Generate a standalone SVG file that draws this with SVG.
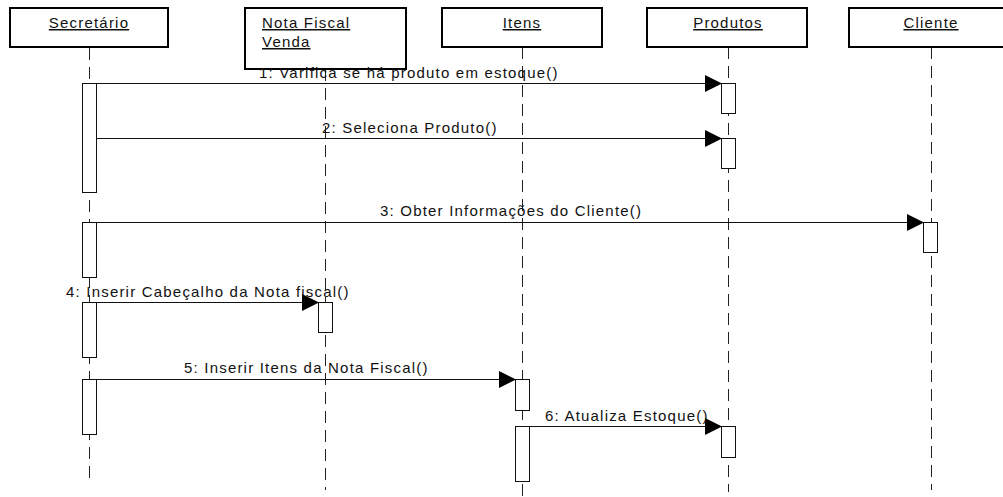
<svg xmlns="http://www.w3.org/2000/svg" width="1003" height="497" viewBox="0 0 1003 497">
  <style>
    .head { fill: #fff; stroke: #000; stroke-width: 2; }
    .name { font-family: "Liberation Sans", Arial, sans-serif; font-size: 15px; letter-spacing: 1.2px; fill: #111; text-decoration: underline; }
    .life { stroke: #222; stroke-width: 1; stroke-dasharray: 12 7; fill: none; }
    .act { fill: #fff; stroke: #111; stroke-width: 1; }
    .msg { stroke: #111; stroke-width: 1; fill: none; marker-end: url(#arrow); }
    .lbl { font-family: "Liberation Sans", Arial, sans-serif; font-size: 15px; letter-spacing: 1.2px; fill: #111; }
  </style>
  <defs>
    <marker id="arrow" markerUnits="userSpaceOnUse" markerWidth="18" markerHeight="18" refX="17" refY="8.5" orient="auto">
      <path d="M0,0 L17,8.5 L0,17 Z" fill="#000"/>
    </marker>
  </defs>
  <rect width="1003" height="497" fill="#fff"/>

  <!-- lifelines (drawn under activation bars) -->
  <g id="lifelines">
    <line class="life" x1="89.5" y1="48" x2="89.5" y2="484"/>
    <line class="life" x1="325.5" y1="69" x2="325.5" y2="490"/>
    <line class="life" x1="522.5" y1="47" x2="522.5" y2="497"/>
    <line class="life" x1="728.5" y1="47" x2="728.5" y2="492"/>
    <line class="life" x1="931.5" y1="47" x2="931.5" y2="490"/>
  </g>

  <g id="secretario">
    <rect class="head" x="10" y="8" width="158" height="39"/>
    <text class="name" x="89" y="28" text-anchor="middle">Secretário</text>
    <rect class="act" x="82.5" y="83.5" width="14" height="109"/>
    <rect class="act" x="82.5" y="222.5" width="14" height="55"/>
    <rect class="act" x="82.5" y="302.5" width="14" height="55"/>
    <rect class="act" x="82.5" y="379.5" width="14" height="55"/>
  </g>

  <g id="nota-fiscal-venda">
    <rect class="head" x="245" y="8" width="161" height="61"/>
    <text class="name" x="262" y="28">Nota Fiscal</text>
    <text class="name" x="262" y="47">Venda</text>
    <rect class="act" x="318.5" y="302.5" width="14" height="30"/>
  </g>

  <g id="itens">
    <rect class="head" x="442" y="8" width="160" height="39"/>
    <text class="name" x="522" y="28" text-anchor="middle">Itens</text>
    <rect class="act" x="515.5" y="379.5" width="14" height="31"/>
    <rect class="act" x="515.5" y="426.5" width="14" height="55"/>
  </g>

  <g id="produtos">
    <rect class="head" x="647" y="8" width="160" height="39"/>
    <text class="name" x="728" y="28" text-anchor="middle">Produtos</text>
    <rect class="act" x="721.5" y="83.5" width="14" height="30"/>
    <rect class="act" x="721.5" y="138.5" width="14" height="30"/>
    <rect class="act" x="721.5" y="426.5" width="14" height="31"/>
  </g>

  <g id="cliente">
    <rect class="head" x="849" y="8" width="164" height="39"/>
    <text class="name" x="931" y="28" text-anchor="middle">Cliente</text>
    <rect class="act" x="923.5" y="222.5" width="14" height="30"/>
  </g>

  <!-- messages -->
  <g id="connectors">
    <line class="msg" x1="97" y1="83.5" x2="722" y2="83.5"/>
    <text class="lbl" x="259" y="78">1: Varifica se há produto em estoque()</text>

    <line class="msg" x1="97" y1="138.5" x2="722" y2="138.5"/>
    <text class="lbl" x="322" y="133">2: Seleciona Produto()</text>

    <line class="msg" x1="97" y1="222.5" x2="924" y2="222.5"/>
    <text class="lbl" x="380" y="216">3: Obter Informações do Cliente()</text>

    <line class="msg" x1="97" y1="302.5" x2="319" y2="302.5"/>
    <text class="lbl" x="66" y="297">4: Inserir Cabeçalho da Nota fiscal()</text>

    <line class="msg" x1="97" y1="379.5" x2="516" y2="379.5"/>
    <text class="lbl" x="184" y="373">5: Inserir Itens da Nota Fiscal()</text>

    <line class="msg" x1="530" y1="426.5" x2="722" y2="426.5"/>
    <text class="lbl" x="545" y="421">6: Atualiza Estoque()</text>
  </g>
</svg>
